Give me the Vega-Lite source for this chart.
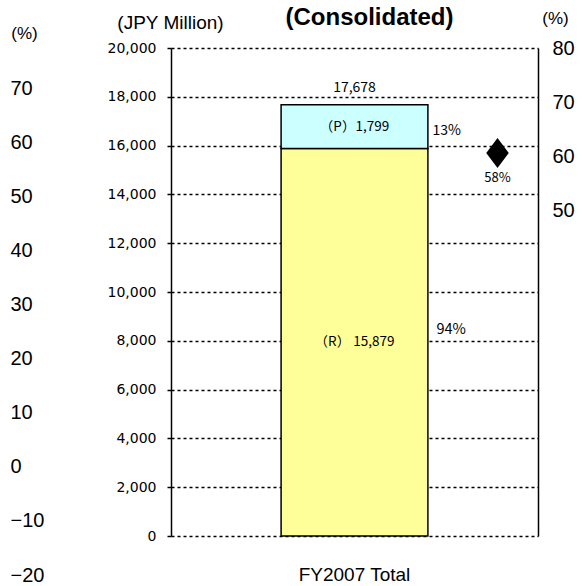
{
  "$schema": "https://vega.github.io/schema/vega-lite/v6.json",
  "width": 367,
  "height": 488,
  "autosize": {"type": "none"},
  "padding": {"left": 171, "top": 48, "right": 45, "bottom": 50},
  "background": "white",
  "config": {"view": {"stroke": null}, "font": "Liberation Sans"},
  "title": {"text": "(Consolidated)", "font": "Liberation Sans", "fontSize": 24, "fontWeight": "bold", "anchor": "middle", "dx": 15, "dy": 21, "offset": 0, "color": "black"},
  "datasets": {
    "segments": [
      {"cat": "FY2007 Total", "seg": "R", "label": "（R） 15,879", "value": 15879, "share": "94%"},
      {"cat": "FY2007 Total", "seg": "P", "label": "（P）1,799", "value": 1799, "share": "13%"}
    ],
    "totals": [{"cat": "FY2007 Total", "total": 17678}],
    "ratio": [{"cat": "FY2007 Total", "pct": 58, "label": "58%"}]
  },
  "encoding": {
    "x": {
      "field": "cat", "type": "nominal", "title": null,
      "scale": {"paddingInner": 0, "paddingOuter": 0.75},
      "axis": {"labelAngle": 0, "labelFontSize": 19, "labelPadding": 29, "ticks": false, "domain": false, "labelColor": "black", "labelFont": "Liberation Sans"}
    }
  },
  "layer": [
    {
      "layer": [
        {
          "data": {"name": "segments"},
          "mark": {"type": "bar", "stroke": "black", "strokeWidth": 1.5},
          "encoding": {
            "y": {
              "field": "value", "type": "quantitative", "stack": "zero", "title": "(JPY Million)",
              "scale": {"domain": [0, 20000], "nice": false},
              "axis": {
                "values": [0, 2000, 4000, 6000, 8000, 10000, 12000, 14000, 16000, 18000, 20000],
                "labelExpr": "format(datum.value, ',')", "grid": true, "gridColor": "black", "gridDash": [3, 3], "gridWidth": 1.6, "gridOpacity": 1,
                "domainColor": "black", "domainWidth": 1.5, "tickColor": "black", "tickSize": 4, "tickWidth": 1.5,
                "labelFont": "DejaVu Sans", "labelFontSize": 14, "labelColor": "black", "labelPadding": 11,
                "titleAngle": 0, "titleX": -1, "titleY": -26, "titleAlign": "center", "titleBaseline": "middle",
                "titleFont": "Liberation Sans", "titleFontSize": 19, "titleFontWeight": "normal", "titleColor": "black"
              }
            },
            "color": {"field": "seg", "type": "nominal", "scale": {"domain": ["R", "P"], "range": ["#FFFF99", "#CCFFFF"]}, "legend": null},
            "order": {"field": "seg", "sort": "descending"}
          }
        },
        {
          "data": {"name": "segments"},
          "transform": [
            {"stack": "value", "groupby": ["cat"], "sort": [{"field": "seg", "order": "descending"}], "as": ["v0", "v1"]},
            {"fold": ["v0", "v1"], "as": ["edge", "pos"]}
          ],
          "mark": {"type": "text", "font": "Noto Sans CJK JP", "fontSize": 13.5, "color": "black"},
          "encoding": {
            "y": {"aggregate": "mean", "field": "pos", "type": "quantitative", "title": "(JPY Million)"},
            "text": {"field": "label", "type": "nominal"}
          }
        },
        {
          "data": {"name": "segments"},
          "transform": [
            {"stack": "value", "groupby": ["cat"], "sort": [{"field": "seg", "order": "descending"}], "as": ["v0", "v1"]},
            {"filter": "datum.seg === 'P'"},
            {"fold": ["v0", "v1"], "as": ["edge", "pos"]}
          ],
          "mark": {"type": "text", "font": "Noto Sans CJK JP", "fontSize": 14, "align": "left", "dx": 78, "dy": 4, "color": "black"},
          "encoding": {
            "y": {"aggregate": "mean", "field": "pos", "type": "quantitative", "title": "(JPY Million)"},
            "text": {"field": "share", "type": "nominal"}
          }
        },
        {
          "data": {"name": "segments"},
          "transform": [
            {"stack": "value", "groupby": ["cat"], "sort": [{"field": "seg", "order": "descending"}], "as": ["v0", "v1"]},
            {"filter": "datum.seg === 'R'"},
            {"fold": ["v0", "v1"], "as": ["edge", "pos"]}
          ],
          "mark": {"type": "text", "font": "Noto Sans CJK JP", "fontSize": 14.5, "align": "left", "dx": 82, "dy": -12, "color": "black"},
          "encoding": {
            "y": {"aggregate": "mean", "field": "pos", "type": "quantitative", "title": "(JPY Million)"},
            "text": {"field": "share", "type": "nominal"}
          }
        },
        {
          "data": {"name": "totals"},
          "mark": {"type": "text", "font": "Noto Sans CJK JP", "fontSize": 14, "baseline": "bottom", "dy": -10, "color": "black"},
          "encoding": {
            "y": {"field": "total", "type": "quantitative", "title": "(JPY Million)"},
            "text": {"field": "total", "type": "quantitative", "format": ","}
          }
        }
      ]
    },
    {
      "data": {"name": "ratio"},
      "mark": {"type": "point", "opacity": 0},
      "encoding": {
        "y": {
          "field": "pct", "type": "quantitative", "title": "(%)",
          "scale": {"domain": [-10, 80], "nice": false},
          "axis": {
            "orient": "right", "values": [50, 60, 70, 80], "ticks": false, "grid": false,
            "domain": true, "domainColor": "black", "domainWidth": 1.5,
            "labelFont": "Liberation Sans", "labelFontSize": 20, "labelColor": "black", "labelPadding": 14,
            "titleAngle": 0, "titleX": 17, "titleY": -30, "titleAlign": "center", "titleBaseline": "middle",
            "titleFont": "Liberation Sans", "titleFontSize": 17, "titleFontWeight": "normal", "titleColor": "black"
          }
        }
      }
    },
    {
      "data": {"name": "ratio"},
      "layer": [
        {
          "mark": {"type": "point", "shape": "M0,-1L0.75,0L0,1L-0.75,0Z", "size": 900, "filled": true, "color": "black", "opacity": 1, "xOffset": 143},
          "encoding": {
            "y": {
              "field": "pct", "type": "quantitative", "title": "(%)",
              "scale": {"domain": [-20, 70], "range": [527, 40], "nice": false},
              "axis": {
                "orient": "left", "offset": 161, "values": [-20, -10, 0, 10, 20, 30, 40, 50, 60, 70],
                "ticks": false, "tickSize": 0, "domain": false, "grid": false,
                "labelAlign": "left", "labelPadding": 0,
                "labelFont": "Liberation Sans", "labelFontSize": 20, "labelColor": "black",
                "titleAngle": 0, "titleX": 14, "titleY": -15, "titleAlign": "center", "titleBaseline": "middle",
                "titleFont": "Liberation Sans", "titleFontSize": 17, "titleFontWeight": "normal", "titleColor": "black"
              }
            }
          }
        },
        {
          "mark": {"type": "text", "xOffset": 143, "dy": 25, "font": "Noto Sans CJK JP", "fontSize": 13, "color": "black"},
          "encoding": {
            "y": {"field": "pct", "type": "quantitative", "title": "(%)"},
            "text": {"field": "label"}
          }
        }
      ]
    }
  ],
  "resolve": {"scale": {"y": "independent"}}
}
